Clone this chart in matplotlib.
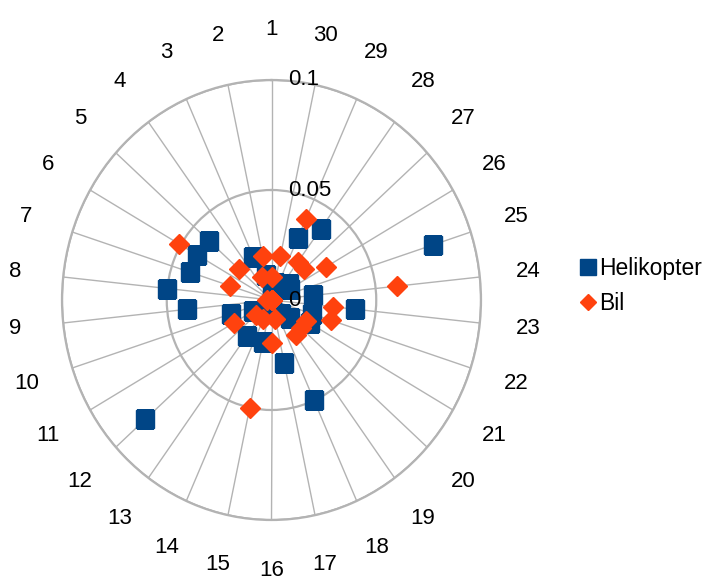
import numpy as np
import matplotlib.pyplot as plt

plt.rcParams['font.family'] = ['Liberation Sans', 'DejaVu Sans']

# Kategorier 1..30 rundt diagrammet (mot klokka, start øverst)
kategorier = [str(i) for i in range(1, 31)]

helikopter = [0.005, 0.0115, 0.0213, 0.0, 0.040, 0.041, 0.041, 0.050, 0.0405, 0.0203,
              0.010, 0.081, 0.020, 0.005, 0.0195, 0.005, 0.0293, 0.050, 0.008, 0.012,
              0.021, 0.0205, 0.040, 0.020, 0.081, 0.010, 0.011, 0.040, 0.031, 0.008]
bil = [0.0106, 0.0205, 0.0116, 0.0, 0.021, 0.0508, 0.0209, 0.002, 0.0, 0.0,
       0.0205, 0.010, 0.0, 0.0096, 0.050, 0.0197, 0.0087, 0.0, 0.0195, 0.0188,
       0.0192, 0.0298, 0.0297, 0.060, 0.0, 0.030, 0.021, 0.0213, 0.0405, 0.0204]

radial_ticks = [0, 0.05, 0.1]

fig = plt.figure(figsize=(7.19, 5.88), dpi=100)
ax = fig.add_axes([62 / 719, 68 / 588, 419 / 719, 440 / 588], projection='polar')
ax.set_aspect('auto')
ax.set_theta_offset(np.pi / 2)

vinkler = 2 * np.pi * np.arange(len(kategorier)) / len(kategorier)

ax.plot(vinkler, helikopter, 's', color='#004586', markersize=13.5,
        linestyle='none', label='Helikopter')
ax.plot(vinkler, bil, 'D', color='#ff420e', markersize=10,
        linestyle='none', label='Bil')

ax.set_ylim(0, 0.1)
ax.set_yticks(radial_ticks[1:])
ax.set_yticklabels([])
ax.set_xticks(vinkler)
ax.set_xticklabels([])
ax.tick_params(length=0)
ax.xaxis.grid(True, color='#b3b3b3', linewidth=1)
ax.yaxis.grid(True, color='#b3b3b3', linewidth=1.6)
ax.spines['polar'].set_color('#b3b3b3')
ax.spines['polar'].set_linewidth(1.6)

# kategorietiketter utenfor ytterste sirkel
for v, k in zip(vinkler, kategorier):
    ax.text(v, 0.123, k, ha='center', va='center', fontsize=16)

# verdietiketter langs den loddrette aksen
for r in radial_ticks:
    ax.annotate(f'{r:g}', (0, r), xytext=(12, 0), textcoords='offset points',
                ha='left', va='center', fontsize=16)

fig.legend(loc='center left', bbox_to_anchor=(580 / 719, 1 - 286 / 588),
           frameon=False, fontsize=16.5, handlelength=0.7, handletextpad=0.15,
           labelspacing=0.55, borderaxespad=0, borderpad=0, markerscale=0.85)

fig.savefig('out.png', dpi=100)
